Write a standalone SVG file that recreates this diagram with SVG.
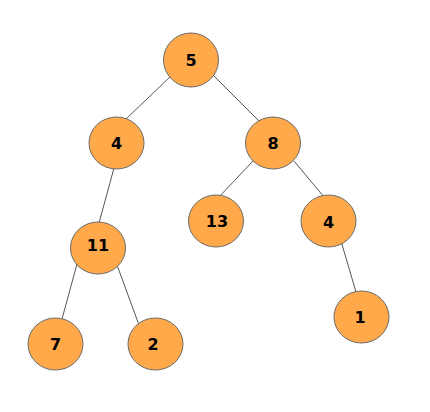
<svg xmlns="http://www.w3.org/2000/svg" width="430" height="412" viewBox="0 0 430 412">
<style>
.n ellipse{fill:#FFA94A;stroke:#6b6b6b;stroke-width:1}
.n text{font-family:"DejaVu Sans",sans-serif;font-weight:bold;font-size:16px;fill:#000;text-anchor:middle;dominant-baseline:central}
#edges line{stroke:#555;stroke-width:1}
</style>
<rect width="430" height="412" fill="#fff"/>
<g id="edges">
<line x1="172" y1="75" x2="126" y2="119"/>
<line x1="211" y1="73" x2="259" y2="121"/>
<line x1="114" y1="168" x2="99" y2="223"/>
<line x1="253" y1="161" x2="219" y2="197"/>
<line x1="294" y1="161" x2="324" y2="197"/>
<line x1="77" y1="264" x2="62" y2="319"/>
<line x1="117" y1="265" x2="139" y2="325"/>
<line x1="341" y1="241" x2="356" y2="292"/>
</g>
<g id="n5" class="n"><ellipse cx="191" cy="60" rx="27.5" ry="27"/><text x="191" y="60">5</text></g>
<g id="n4a" class="n"><ellipse cx="116.5" cy="143" rx="27.5" ry="26"/><text x="116.5" y="143">4</text></g>
<g id="n8" class="n"><ellipse cx="273" cy="143" rx="27.5" ry="26"/><text x="273" y="143">8</text></g>
<g id="n11" class="n"><ellipse cx="98" cy="248" rx="27.5" ry="26"/><text x="98" y="245">11</text></g>
<g id="n13" class="n"><ellipse cx="216" cy="221" rx="27.5" ry="26"/><text x="217" y="221">13</text></g>
<g id="n4b" class="n"><ellipse cx="328.5" cy="221" rx="27.5" ry="26"/><text x="328.5" y="222">4</text></g>
<g id="n7" class="n"><ellipse cx="55.5" cy="344" rx="27.5" ry="26"/><text x="55.5" y="344">7</text></g>
<g id="n2" class="n"><ellipse cx="155.5" cy="344" rx="27.5" ry="26"/><text x="153" y="344">2</text></g>
<g id="n1" class="n"><ellipse cx="361.5" cy="317" rx="27.5" ry="26"/><text x="360" y="317">1</text></g>
</svg>
